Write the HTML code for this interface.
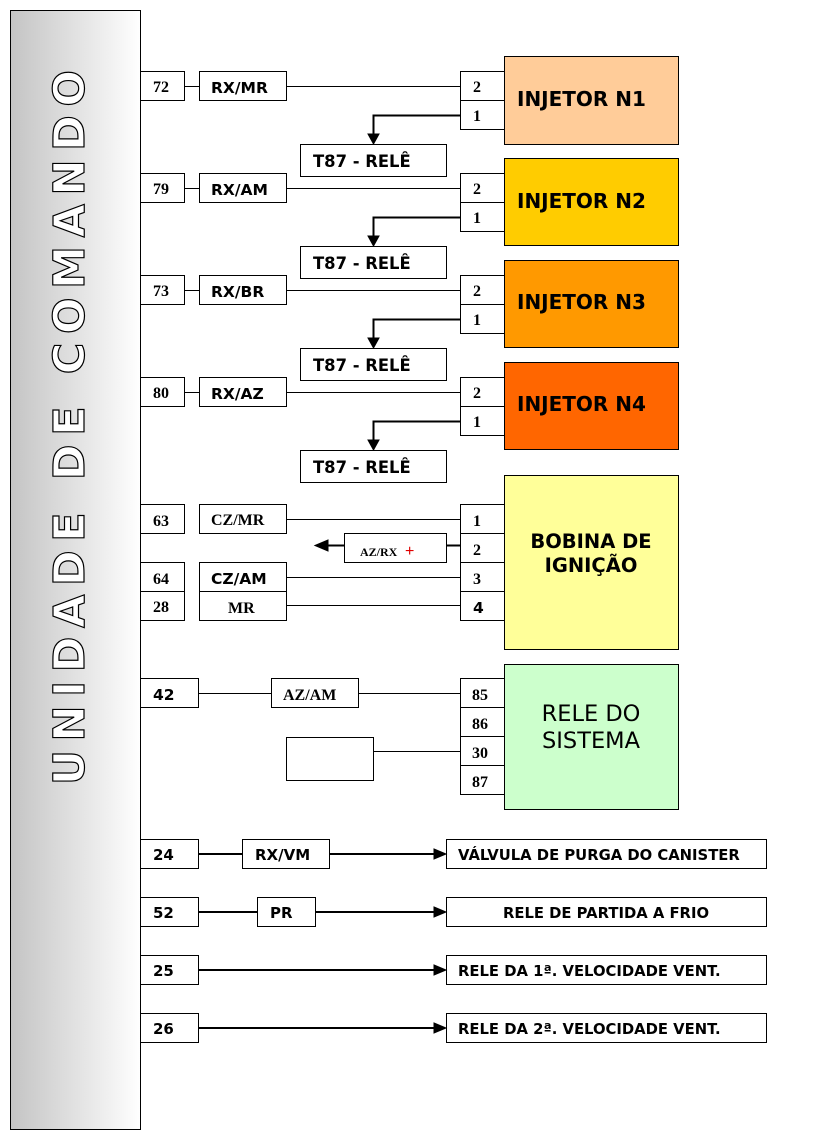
<!DOCTYPE html>
<html><head><meta charset="utf-8"><style>
html,body{margin:0;padding:0;background:#fff;}
svg{display:block;}
.s{font-family:"DejaVu Sans","Liberation Sans",sans-serif;font-weight:bold;}
.t{font-family:"Liberation Serif",serif;font-weight:bold;}
</style></head><body>
<svg width="820" height="1145" viewBox="0 0 820 1145" xmlns="http://www.w3.org/2000/svg">
<defs>
<linearGradient id="g" x1="0" x2="1" y1="0" y2="0">
<stop offset="0" stop-color="#c4c4c4"/><stop offset="1" stop-color="#ffffff"/>
</linearGradient>
</defs>
<rect x="10.5" y="10.5" width="130" height="1119" fill="url(#g)" stroke="#000"/>
<text class="s" transform="translate(84,785) rotate(-90)" font-size="43" fill="#fff" stroke="#000" stroke-width="1.2" textLength="715" lengthAdjust="spacing">UNIDADE DE COMANDO</text>
<g stroke="#000" stroke-width="1">
<rect x="504.5" y="56.5" width="174" height="88" fill="#ffcc99"/>
<rect x="504.5" y="158.5" width="174" height="87" fill="#ffcc00"/>
<rect x="504.5" y="260.5" width="174" height="87" fill="#ff9900"/>
<rect x="504.5" y="362.5" width="174" height="87" fill="#ff6600"/>
</g>
<g class="s" font-size="20">
<text x="517" y="106">INJETOR N1</text>
<text x="517" y="208">INJETOR N2</text>
<text x="517" y="309">INJETOR N3</text>
<text x="517" y="411">INJETOR N4</text>
</g>
<g stroke="#000" fill="#fff" stroke-width="1">
<g>
<rect x="140.5" y="71.5" width="44" height="29"/><rect x="199.5" y="71.5" width="87" height="29"/>
<rect x="460.5" y="71.5" width="44" height="29"/><rect x="460.5" y="100.5" width="44" height="29"/>
<rect x="300.5" y="144.5" width="146" height="32"/>
<line x1="184" y1="86.5" x2="199" y2="86.5"/><line x1="286" y1="86.5" x2="460" y2="86.5"/>
<polyline points="460,115.5 373.5,115.5 373.5,136" fill="none" stroke-width="2"/>
<path d="M368,134 L379,134 L373.5,144 z" fill="#000"/>
</g>
<g transform="translate(0,102)">
<rect x="140.5" y="71.5" width="44" height="29"/><rect x="199.5" y="71.5" width="87" height="29"/>
<rect x="460.5" y="71.5" width="44" height="29"/><rect x="460.5" y="100.5" width="44" height="29"/>
<rect x="300.5" y="144.5" width="146" height="32"/>
<line x1="184" y1="86.5" x2="199" y2="86.5"/><line x1="286" y1="86.5" x2="460" y2="86.5"/>
<polyline points="460,115.5 373.5,115.5 373.5,136" fill="none" stroke-width="2"/>
<path d="M368,134 L379,134 L373.5,144 z" fill="#000"/>
</g>
<g transform="translate(0,204)">
<rect x="140.5" y="71.5" width="44" height="29"/><rect x="199.5" y="71.5" width="87" height="29"/>
<rect x="460.5" y="71.5" width="44" height="29"/><rect x="460.5" y="100.5" width="44" height="29"/>
<rect x="300.5" y="144.5" width="146" height="32"/>
<line x1="184" y1="86.5" x2="199" y2="86.5"/><line x1="286" y1="86.5" x2="460" y2="86.5"/>
<polyline points="460,115.5 373.5,115.5 373.5,136" fill="none" stroke-width="2"/>
<path d="M368,134 L379,134 L373.5,144 z" fill="#000"/>
</g>
<g transform="translate(0,306)">
<rect x="140.5" y="71.5" width="44" height="29"/><rect x="199.5" y="71.5" width="87" height="29"/>
<rect x="460.5" y="71.5" width="44" height="29"/><rect x="460.5" y="100.5" width="44" height="29"/>
<rect x="300.5" y="144.5" width="146" height="32"/>
<line x1="184" y1="86.5" x2="199" y2="86.5"/><line x1="286" y1="86.5" x2="460" y2="86.5"/>
<polyline points="460,115.5 373.5,115.5 373.5,136" fill="none" stroke-width="2"/>
<path d="M368,134 L379,134 L373.5,144 z" fill="#000"/>
</g>
</g>
<g class="t" font-size="16">
<text x="153" y="92">72</text><text x="153" y="194">79</text><text x="153" y="296">73</text><text x="153" y="398">80</text>
<text x="473" y="92">2</text><text x="473" y="121">1</text>
<text x="473" y="194">2</text><text x="473" y="223">1</text>
<text x="473" y="296">2</text><text x="473" y="325">1</text>
<text x="473" y="398">2</text><text x="473" y="427">1</text>
</g>
<g class="s" font-size="15.5">
<text x="211" y="93">RX/MR</text><text x="211" y="195">RX/AM</text><text x="211" y="297">RX/BR</text><text x="211" y="399">RX/AZ</text>
</g>
<g class="s" font-size="16.4">
<text x="313" y="167">T87 - RELÊ</text><text x="313" y="269">T87 - RELÊ</text><text x="313" y="371">T87 - RELÊ</text><text x="313" y="473">T87 - RELÊ</text>
</g>
<g stroke="#000" stroke-width="1" fill="#fff">
<rect x="504.5" y="475.5" width="174" height="174" fill="#ffff99"/>
<rect x="460.5" y="504.5" width="44" height="29"/><rect x="460.5" y="533.5" width="44" height="29"/>
<rect x="460.5" y="562.5" width="44" height="29"/><rect x="460.5" y="591.5" width="44" height="29"/>
<rect x="140.5" y="504.5" width="44" height="29"/><rect x="199.5" y="504.5" width="87" height="29"/>
<rect x="140.5" y="562.5" width="44" height="29"/><rect x="199.5" y="562.5" width="87" height="29"/>
<rect x="140.5" y="591.5" width="44" height="29"/><rect x="199.5" y="591.5" width="87" height="29"/>
<rect x="344.5" y="533.5" width="102" height="29"/>
<line x1="286" y1="519.5" x2="460" y2="519.5"/>
<line x1="286" y1="577.5" x2="460" y2="577.5"/>
<line x1="286" y1="605.5" x2="460" y2="605.5"/>
<line x1="446" y1="545.5" x2="460" y2="545.5" stroke-width="2"/>
<line x1="326" y1="545.5" x2="344" y2="545.5" stroke-width="2"/>
<path d="M315,545.5 L328,540 L328,551 z" fill="#000"/>
</g>
<g class="t" font-size="16">
<text x="153" y="526">63</text><text x="153" y="584">64</text><text x="153" y="612">28</text>
<text x="211" y="525">CZ/MR</text><text x="228" y="613">MR</text>
<text x="473" y="526">1</text><text x="473" y="555">2</text><text x="473" y="584">3</text>
<text x="360" y="556" font-size="12">AZ/RX</text>
</g>
<text x="405" y="556" fill="#e00000" font-family="Liberation Sans,sans-serif" font-size="16">+</text>
<g class="s" font-size="15.5">
<text x="211" y="584">CZ/AM</text><text x="473" y="613">4</text>
</g>
<text class="s" font-size="19.5" x="591" y="548" text-anchor="middle">BOBINA DE</text>
<text class="s" font-size="19.5" x="591" y="572" text-anchor="middle">IGNIÇÃO</text>
<g stroke="#000" stroke-width="1" fill="#fff">
<rect x="504.5" y="664.5" width="174" height="145" fill="#ccffcc"/>
<rect x="460.5" y="678.5" width="44" height="29"/><rect x="460.5" y="707.5" width="44" height="29"/>
<rect x="460.5" y="736.5" width="44" height="29"/><rect x="460.5" y="765.5" width="44" height="29"/>
<rect x="140.5" y="678.5" width="58" height="29"/><rect x="271.5" y="678.5" width="87" height="29"/>
<rect x="286.5" y="737.5" width="87" height="43"/>
<line x1="198" y1="693.5" x2="271" y2="693.5"/><line x1="358" y1="693.5" x2="460" y2="693.5"/>
<line x1="373" y1="751.5" x2="460" y2="751.5"/>
</g>
<g class="t" font-size="16">
<text x="472" y="700">85</text><text x="472" y="729">86</text><text x="472" y="758">30</text><text x="472" y="787">87</text>
<text x="283" y="700">AZ/AM</text>
</g>
<text class="s" font-size="15.5" x="153" y="700">42</text>
<text x="591" y="721" text-anchor="middle" font-family="DejaVu Sans,sans-serif" font-size="22.5">RELE DO</text>
<text x="591" y="748" text-anchor="middle" font-family="DejaVu Sans,sans-serif" font-size="22.5">SISTEMA</text>
<g stroke="#000" stroke-width="1" fill="#fff">
<rect x="140.5" y="839.5" width="58" height="29"/><rect x="242.5" y="839.5" width="87" height="29"/><rect x="446.5" y="839.5" width="320" height="29"/>
<line x1="198" y1="854" x2="242" y2="854" stroke-width="2"/><line x1="329" y1="854" x2="436" y2="854" stroke-width="2"/>
<path d="M434,849 L446,854 L434,859 z" fill="#000"/>
<rect x="140.5" y="897.5" width="58" height="29"/><rect x="257.5" y="897.5" width="58" height="29"/><rect x="446.5" y="897.5" width="320" height="29"/>
<line x1="198" y1="912" x2="257" y2="912" stroke-width="2"/><line x1="315" y1="912" x2="436" y2="912" stroke-width="2"/>
<path d="M434,907 L446,912 L434,917 z" fill="#000"/>
<rect x="140.5" y="955.5" width="58" height="29"/><rect x="446.5" y="955.5" width="320" height="29"/>
<line x1="198" y1="970" x2="436" y2="970" stroke-width="2"/>
<path d="M434,965 L446,970 L434,975 z" fill="#000"/>
<rect x="140.5" y="1013.5" width="58" height="29"/><rect x="446.5" y="1013.5" width="320" height="29"/>
<line x1="198" y1="1028" x2="436" y2="1028" stroke-width="2"/>
<path d="M434,1023 L446,1028 L434,1033 z" fill="#000"/>
</g>
<g class="s" font-size="15">
<text x="153" y="860">24</text><text x="153" y="918">52</text><text x="153" y="976">25</text><text x="153" y="1034">26</text>
<text x="255" y="860">RX/VM</text><text x="270" y="918">PR</text>
</g>
<g class="s" font-size="14.8">
<text x="458" y="860">VÁLVULA DE PURGA DO CANISTER</text>
<text x="606" y="918" text-anchor="middle">RELE DE PARTIDA A FRIO</text>
<text x="458" y="976">RELE DA 1ª. VELOCIDADE VENT.</text>
<text x="458" y="1034">RELE DA 2ª. VELOCIDADE VENT.</text>
</g>
</svg>
</body></html>
